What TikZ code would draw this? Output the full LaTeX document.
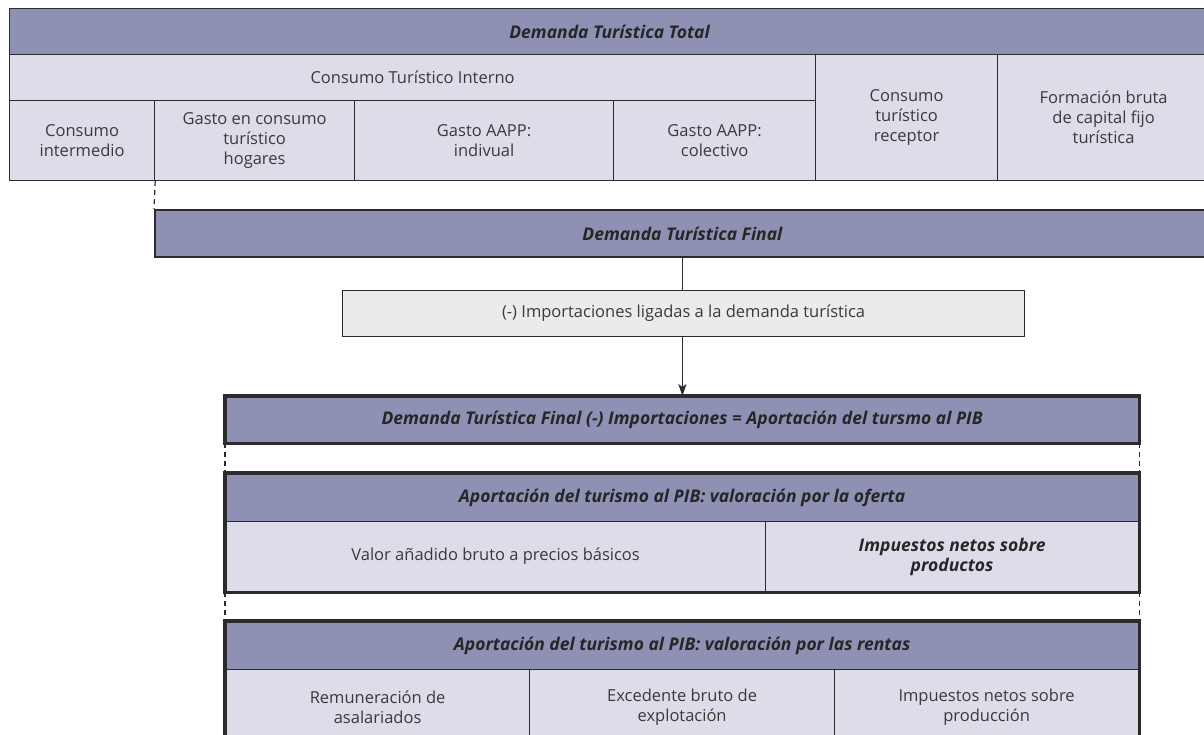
\documentclass[tikz,border=0pt]{standalone}
\usepackage{fontspec}
\setmainfont{Open Sans}
\usetikzlibrary{arrows.meta}

\definecolor{hdrblue}{HTML}{8E91B4}
\definecolor{cellblue}{HTML}{DDDDE9}
\definecolor{impgray}{HTML}{EBEBEB}
\definecolor{rulegray}{HTML}{2B2B2B}
\definecolor{txtgray}{HTML}{3A3A3A}

\tikzset{
  box/.style={draw=rulegray, line width=1.2pt, anchor=north west, inner sep=0pt,
    align=center, text=txtgray, font=\fontsize{16.5}{20}\selectfont},
  hdr/.style={box, fill=hdrblue, text=black!85,
    font=\fontsize{17.5}{20}\selectfont\bfseries\itshape},
  cell/.style={box, fill=cellblue},
  frame/.style={draw=rulegray, line width=3.2pt},
  link/.style={draw=rulegray, line width=1.2pt},
  dashlink/.style={link, dash pattern=on 5pt off 4pt},
}

\begin{document}
\begin{tikzpicture}[x=1pt, y=-1pt]
\clip (0,0) rectangle (1204,735);
\fill[white] (0,0) rectangle (1204,735);

% demanda total
\node[hdr, minimum width=1200, minimum height=46] (total) at (9,8) {Demanda Turística Total};
\node[cell, minimum width=806, minimum height=46] (interno) at (9,54) {Consumo Turístico Interno};
\node[cell, minimum width=145, minimum height=80] (interm) at (9,100) {Consumo\\intermedio};
\node[cell, minimum width=200, minimum height=80] (hogar) at (154,100) {Gasto en consumo\\turístico\\hogares};
\node[cell, minimum width=259, minimum height=80] (indiv) at (354,100) {Gasto AAPP:\\indivual};
\node[cell, minimum width=202, minimum height=80] (colect) at (613,100) {Gasto AAPP:\\colectivo};
\node[cell, minimum width=182, minimum height=126] (recep) at (815,54) {Consumo\\turístico\\receptor};
\node[cell, minimum width=212, minimum height=126] (fbcf) at (997,54) {Formación bruta\\de capital fijo\\turística};

% demanda final
\node[hdr, line width=1.8pt, minimum width=1055, minimum height=47] (final) at (154,209) {Demanda Turística Final};
\node[box, fill=impgray, minimum width=682, minimum height=46] (import) at (342,290) {(-) Importaciones ligadas a la demanda turística};
\node[hdr, minimum width=913, minimum height=46] (aporte) at (225,396) {Demanda Turística Final (-) Importaciones = Aportación del tursmo al PIB};

% oferta
\node[hdr, minimum width=913, minimum height=48] (oferta) at (225,473) {Aportación del turismo al PIB: valoración por la oferta};
\node[cell, minimum width=540, minimum height=70] (vab) at (225,521) {Valor añadido bruto a precios básicos};
\node[cell, minimum width=373, minimum height=70, font=\fontsize{17.5}{20}\selectfont\bfseries\itshape, text=black!85] (impprod) at (765,521) {Impuestos netos sobre\\productos};

% rentas
\node[hdr, minimum width=913, minimum height=48] (rentas) at (225,621) {Aportación del turismo al PIB: valoración por las rentas};
\node[cell, minimum width=304, minimum height=75] (remun) at (225,669) {Remuneración de\\asalariados};
\node[cell, minimum width=305, minimum height=75] (exced) at (529,669) {Excedente bruto de\\explotación};
\node[cell, minimum width=304, minimum height=75] (impprodn) at (834,669) {Impuestos netos sobre\\producción};

\draw[frame] (aporte.north west) rectangle (aporte.south east);
\draw[frame] (oferta.north west) rectangle (impprod.south east);
\draw[frame] (rentas.north west) rectangle (impprodn.south east);

\draw[dashlink] (interm.south east) -- (final.north west);
\draw[dashlink] (aporte.south west) -- (oferta.north west);
\draw[dashlink] (aporte.south east) -- (oferta.north east);
\draw[dashlink] (vab.south west) -- (rentas.north west);
\draw[dashlink] (impprod.south east) -- (rentas.north east);

\draw[link] (final.south) -- (final.south |- import.north);
\draw[link, -{Stealth[length=12pt, width=8pt, inset=3pt]}] (final.south |- import.south) -- (final.south |- aporte.north);

\end{tikzpicture}
\end{document}
